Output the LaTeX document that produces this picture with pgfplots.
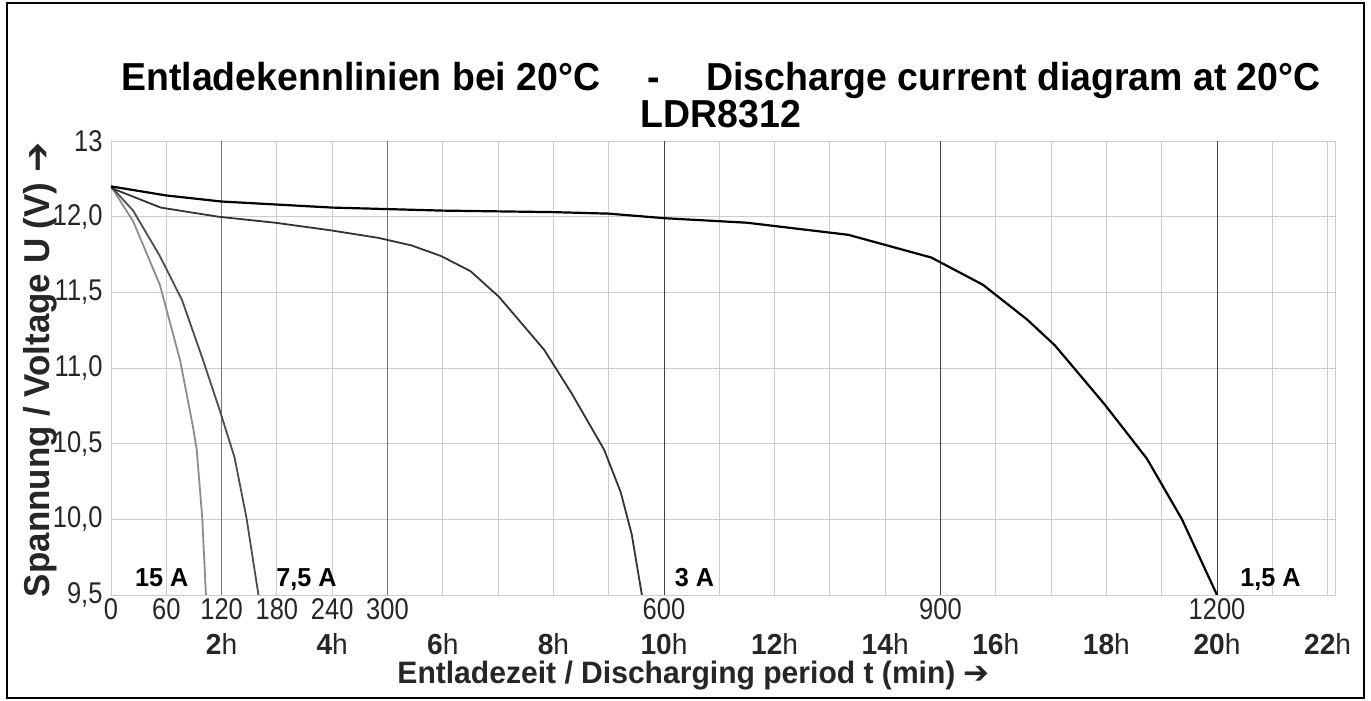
\documentclass[border=0pt]{standalone}
\usepackage{fontspec}
\setmainfont{Liberation Sans}[FakeStretch=0.97]
\newfontfamily\narrowfont{Liberation Sans}[FakeStretch=0.85]
\newfontfamily\titlefont{Liberation Sans}[FakeStretch=0.96]
\newfontfamily\arrowfont{DejaVu Sans}
\usepackage{pgfplots}
\pgfplotsset{compat=1.18}
\definecolor{gridc}{HTML}{CCCCCC}
\definecolor{gridm}{HTML}{777777}
\definecolor{gridd}{HTML}{404040}
\definecolor{c15}{HTML}{8C8C8C}
\definecolor{c75}{HTML}{4D4D4D}
\definecolor{c3}{HTML}{333333}
\definecolor{txt}{HTML}{262626}
\begin{document}
\begin{tikzpicture}[x=1pt,y=1pt]
\useasboundingbox (0,0) rectangle (1371,701);
\draw[line width=2.5pt] (7,3) rectangle (1364,698);
\node[font=\titlefont\bfseries\fontsize{39}{44}\selectfont] at (721,620) {Entladekennlinien bei 20°C\hspace{1.2em}-\hspace{1.2em}Discharge current diagram at 20°C};
\node[font=\titlefont\bfseries\fontsize{39}{44}\selectfont] at (721,587) {LDR8312};
\begin{axis}[
  at={(111pt,106pt)}, anchor=south west, scale only axis,
  width=1224pt, height=454pt,
  xmin=0, xmax=1328, ymin=9.5, ymax=12.5,
  /pgf/number format/assume math mode=true,
  xtick={0,60,...,1320},
  xticklabels={0,60,120,180,240,300,{},{},{},{},600,{},{},{},{},900,{},{},{},{},1200,{},{}},
  extra x ticks={120,240,...,1320},
  extra x tick labels={\textbf{2}h,\textbf{4}h,\textbf{6}h,\textbf{8}h,\textbf{10}h,\textbf{12}h,\textbf{14}h,\textbf{16}h,\textbf{18}h,\textbf{20}h,\textbf{22}h},
  extra x tick style={grid=none, major tick length=0pt, tick label style={yshift=-35pt, font=\fontsize{29}{29}\selectfont}},
  ytick={9.5,10,10.5,11,11.5,12,12.5},
  yticklabels={{9,5},{10,0},{10,5},{11,0},{11,5},{12,0},{13}},
  grid=major,
  major grid style={gridc, line width=0.9pt},
  axis line style={gridc, line width=0.9pt},
  major tick length=0pt,
  tick label style={font=\narrowfont\fontsize{30}{30}\selectfont, text=txt},
  yticklabel style={xshift=-5pt},
  xlabel={\textbf{Entladezeit / Discharging period t (min)} {\arrowfont\bfseries ➔}},
  xlabel style={at={(axis description cs:0.476,0)}, anchor=center, yshift=-81pt, font=\fontsize{31}{31}\selectfont, text=txt},
  ylabel={\textbf{Spannung / Voltage U (V)} {\arrowfont\bfseries ➔}},
  ylabel style={at={(axis description cs:-0.058,0.496)}, anchor=center, font=\fontsize{36}{36}\selectfont, text=txt},
  clip=true,
]
\draw[gridm, line width=0.9pt] (axis cs:120,9.5) -- (axis cs:120,12.5);
\draw[gridm, line width=0.9pt] (axis cs:300,9.5) -- (axis cs:300,12.5);
\draw[gridd, line width=0.9pt] (axis cs:600,9.5) -- (axis cs:600,12.5);
\draw[gridd, line width=0.9pt] (axis cs:900,9.5) -- (axis cs:900,12.5);
\draw[gridd, line width=0.9pt] (axis cs:1200,9.5) -- (axis cs:1200,12.5);
% 15 A
\addplot[c15, line width=1.8pt] coordinates {(0,12.20)(24,11.97)(53,11.55)(75,11.05)(89,10.61)(93,10.46)(99,10.01)(103,9.5)};
% 7.5 A
\addplot[c75, line width=1.8pt] coordinates {(0,12.20)(24,12.04)(53,11.74)(77,11.45)(100,11.05)(118,10.72)(134,10.41)(147,10.01)(160,9.5)};
% 3 A
\addplot[c3, line width=1.8pt] coordinates {(0,12.19)(54,12.06)(116,12.00)(178,11.96)(238,11.91)(290,11.86)(326,11.81)(358,11.74)(390,11.64)(421,11.47)(470,11.12)(500,10.83)(535,10.46)(553,10.18)(565,9.90)(576,9.5)};
% 1.5 A
\addplot[black, line width=2.2pt] coordinates {(0,12.20)(60,12.14)(120,12.10)(240,12.06)(360,12.04)(480,12.03)(540,12.02)(600,11.99)(690,11.96)(800,11.88)(890,11.73)(946,11.55)(994,11.32)(1024,11.15)(1078,10.76)(1124,10.40)(1162,10.0)(1200,9.5)};
\node[anchor=base, font=\bfseries\fontsize{26}{26}\selectfont] at (axis cs:55,9.553) {15 A};
\node[anchor=base, font=\bfseries\fontsize{26}{26}\selectfont] at (axis cs:212,9.553) {7,5 A};
\node[anchor=base, font=\bfseries\fontsize{26}{26}\selectfont] at (axis cs:633,9.553) {3 A};
\node[anchor=base, font=\bfseries\fontsize{26}{26}\selectfont] at (axis cs:1258,9.553) {1,5 A};
\end{axis}
\end{tikzpicture}
\end{document}
